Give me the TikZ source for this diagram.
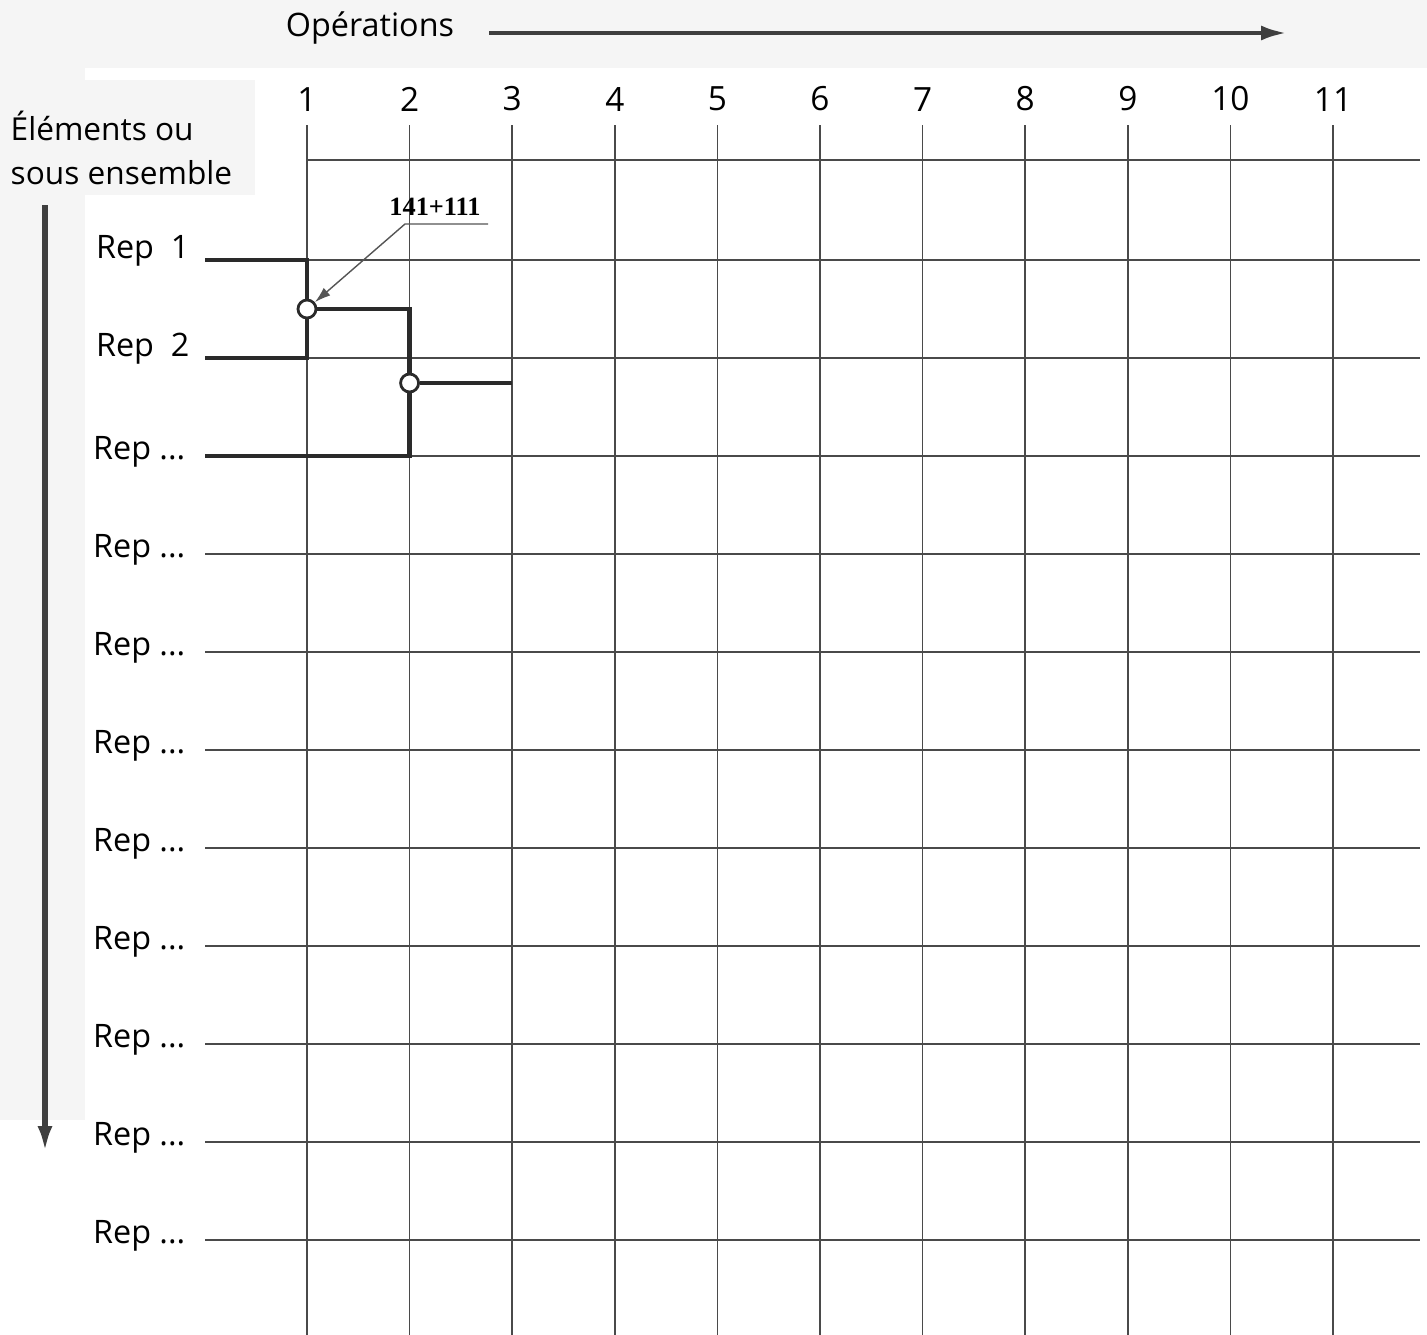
\documentclass[tikz,border=0pt]{standalone}
\usepackage{fontspec}
\setmainfont{Open Sans}
\newfontfamily\notefont{Liberation Serif}
\usetikzlibrary{arrows.meta,positioning}
\definecolor{ink}{HTML}{2A2A2A}
\definecolor{paper}{HTML}{F5F5F5}
\tikzset{gridline/.style={draw=ink!85,line width=.45pt},flowline/.style={draw=ink,line width=1.3pt},joint/.style={circle,draw=ink,fill=white,line width=.8pt,inner sep=0pt,minimum size=1.8mm},axisarrow/.style={draw=ink!90,line width=1.3pt,-{Latex[length=2.6mm,width=1.5mm]}},leader/.style={draw=ink!80,line width=.4pt},replabel/.style={font=\fontsize{9.2}{11}\selectfont,anchor=base east,inner sep=0pt},colnum/.style={font=\fontsize{9.5}{11}\selectfont,inner sep=0pt},notelabel/.style={font=\notefont\bfseries\fontsize{7.5}{9}\selectfont,inner sep=0pt}}
\begin{document}
\begin{tikzpicture}[x=.1mm,y=-.1mm]
\useasboundingbox (0,0) rectangle (1427,1335);
% scanned page tint
\fill[paper] (0,0) rectangle (1427,68);
\fill[paper] (0,0) rectangle (85,1120);
\fill[paper] (0,80) rectangle (255,195);
% headings
\node[font=\fontsize{9.2}{11}\selectfont] (ops) at (370,28) {Opérations};
\coordinate (opsend) at (1287,33);
\draw[axisarrow] ([xshift=2.3mm]ops.east |- opsend) -- (opsend);
\node[font=\fontsize{9}{12.5}\selectfont,align=left,inner sep=0pt,anchor=north west] (elts) at (10,110) {Éléments ou\\sous ensemble};
\coordinate (eltstop) at (45,205);
\coordinate (eltsend) at (45,1152);
\draw[axisarrow,line width=1.5pt] (eltstop) -- (eltsend);
% columns (operations)
\foreach \k in {1,...,11} {
  \coordinate (c\k) at ({307+102.6*(\k-1)},125);
  \coordinate (b\k) at ({307+102.6*(\k-1)},1335);
  \node[colnum,above=1.3mm of c\k] (n\k) {\k};
  \draw[gridline] (c\k) -- (b\k);
}
\coordinate (top) at (1420,160);
\draw[gridline] (c1 |- top) -- (top);
% rows (elements)
\foreach \k in {1,...,11} {
  \coordinate (r\k) at (205,{260+98*(\k-1)});
  \coordinate (e\k) at (1420,{260+98*(\k-1)});
  \draw[gridline] (r\k) -- (e\k);
}
\node[replabel] (l1) at (190,258) {Rep\ \ 1};
\node[replabel] (l2) at (190,356) {Rep\ \ 2};
\foreach \k in {3,...,11}
  \node[replabel] (l\k) at ([xshift=-1.9mm,yshift=-.3mm]r\k) {Rep ...};
% assembly path
\draw[flowline] (r1) -| (c1 |- r2) -- (r2);
\node[joint] (j1) at (c1 |- 0,309) {};
\draw[flowline] (j1) -| (c2 |- r3) -- (r3);
\node[joint] (j2) at (c2 |- 0,383) {};
\draw[flowline] (j2) -- (c3 |- j2);
% note
\node[notelabel] (note) at (435,207) {141+111};
\coordinate (ulend) at (488,224);
\coordinate (ulknee) at (405,224);
\draw[leader,-{Latex[length=1.6mm,width=1mm]}] (ulend) -- (ulknee) -- (j1);
\end{tikzpicture}
\end{document}
